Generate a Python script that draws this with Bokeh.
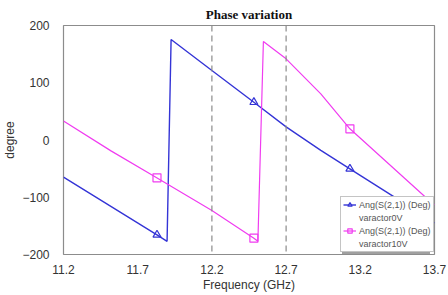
from bokeh.plotting import figure
from bokeh.models import Range1d, FixedTicker, Span, Label, Legend, LegendItem
from bokeh.embed import file_html
from bokeh.resources import INLINE

# Phase of S21 versus frequency for two varactor bias settings
freq_0v = [11.2, 11.83, 11.898, 11.925, 12.2, 12.483, 12.7, 12.934, 13.13, 13.42, 13.7]
phase_0v = [-65, -165.6, -177, 175.5, 121.4, 66, 23, -18, -50.3, -98, -145]

freq_10v = [11.2, 11.52, 11.828, 12.2, 12.483, 12.51, 12.547, 12.7, 12.934, 13.13, 13.64, 13.7]
phase_10v = [33, -19, -66, -123, -171.5, -177, 172, 141.8, 80.7, 19.6, -100, -113]

# marker positions along each trace
mark_freq = [11.83, 12.483, 13.13]
mark_0v = [-165.6, 66, -50.3]
mark_10v = [-66, -171.5, 19.6]

# vertical reference markers
ref_freqs = [12.2, 12.7]
ref_labels = ["12.2 GHz", "12.7 GHz"]

x_ticks = [11.2, 11.7, 12.2, 12.7, 13.2, 13.7]
y_ticks = [-200, -100, 0, 100, 200]

# legend text: measurement name, then the bias setting on its own row
series_names = ["Ang(S(2,1)) (Deg)", "Ang(S(2,1)) (Deg)"]
series_bias = ["varactor0V", "varactor10V"]

blue = "#3434D6"
pink = "#F03CF0"
sans = "Liberation Sans"

p = figure(width=448, height=295, output_backend="svg", toolbar_location=None,
           x_range=Range1d(11.2, 13.7), y_range=Range1d(-200, 200),
           min_border_left=62, min_border_right=14, min_border_top=25,
           min_border_bottom=41)
p.background_fill_color = "white"
p.border_fill_color = "white"
p.outline_line_color = "#8c8c8c"
p.outline_line_width = 1.2
p.grid.visible = False

p.title.text = "Phase variation"
p.title.align = "center"
p.title.text_font = "Liberation Serif"
p.title.text_font_style = "bold"
p.title.text_font_size = "13px"
p.title.text_color = "#111111"
p.title.standoff = 7

for ax in (p.xaxis[0], p.yaxis[0]):
    ax.axis_line_color = None
    ax.major_tick_line_color = None
    ax.minor_tick_line_color = None
    ax.major_tick_out = 0
    ax.major_tick_in = 0
    ax.minor_tick_out = 0
    ax.minor_tick_in = 0
    ax.major_label_text_font = sans
    ax.major_label_text_font_size = "12px"
    ax.major_label_text_color = "#333333"
    ax.axis_label_text_font = sans
    ax.axis_label_text_font_size = "12px"
    ax.axis_label_text_font_style = "normal"
    ax.axis_label_text_color = "#333333"

p.xaxis.ticker = FixedTicker(ticks=x_ticks)
p.yaxis.ticker = FixedTicker(ticks=y_ticks)
p.xaxis.axis_label = "Frequency (GHz)"
p.yaxis.axis_label = "degree"
p.xaxis.major_label_standoff = 10
p.yaxis.major_label_standoff = 14
p.xaxis.axis_label_standoff = 1
p.yaxis.axis_label_standoff = 2

for f, t in zip(ref_freqs, ref_labels):
    p.add_layout(Span(location=f, dimension="height", line_color="#8a8a8a",
                      line_width=1.2, line_dash="6 4"))
    p.add_layout(Label(x=f, y=-200, text=t, text_font=sans, text_font_size="4px",
                       text_color="#777777", text_align="center",
                       text_baseline="middle", y_offset=-4))

l0 = p.line(freq_0v, phase_0v, line_color=blue, line_width=1.4)
m0 = p.scatter(mark_freq, mark_0v, marker="triangle", size=8, fill_color=None,
               line_color=blue, line_width=1.2)
l1 = p.line(freq_10v, phase_10v, line_color=pink, line_width=1.2)
m1 = p.scatter(mark_freq, mark_10v, marker="square", size=8, fill_color=None,
               line_color=pink, line_width=1.2)

# invisible renderer for text-only legend rows
ghost = p.line([], [], line_alpha=0)


def style_legend(lg):
    lg.label_text_font = sans
    lg.label_text_font_size = "9px"
    lg.padding = 2
    lg.spacing = 2
    lg.margin = 0
    lg.glyph_width = 13
    lg.glyph_height = 11
    lg.label_height = 11
    lg.label_standoff = 3


# a blank gray box of the same size, offset down and right: the legend's drop shadow
shadow = Legend(items=[LegendItem(label=" ", renderers=[ghost]) for _ in range(4)],
                location=(279, 0))
style_legend(shadow)
shadow.label_width = 72
shadow.border_line_color = None
shadow.background_fill_color = "#a0a0a0"
shadow.background_fill_alpha = 1
p.add_layout(shadow)

legend = Legend(items=[
    LegendItem(label=series_names[0], renderers=[l0, m0]),
    LegendItem(label=series_bias[0], renderers=[ghost]),
    LegendItem(label=series_names[1], renderers=[l1, m1]),
    LegendItem(label=series_bias[1], renderers=[ghost]),
], location=(277, 2))
style_legend(legend)
legend.label_text_color = "#555555"
legend.border_line_color = "#8a8a8a"
legend.border_line_width = 1
legend.background_fill_color = "white"
legend.background_fill_alpha = 1
p.add_layout(legend)

open("out.html", "w").write(file_html(p, INLINE))
